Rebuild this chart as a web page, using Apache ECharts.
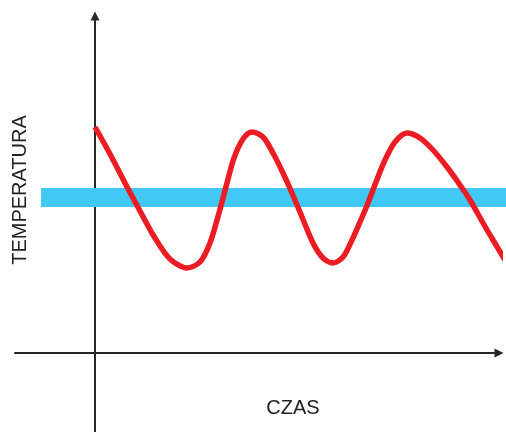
<!DOCTYPE html>
<html>
<head>
<meta charset="utf-8">
<script src="https://cdn.jsdelivr.net/npm/echarts@6/dist/echarts.min.js"></script>
<style>html,body{margin:0;padding:0;background:#fff}#c{width:506px;height:432px}</style>
</head>
<body>
<div id="c"></div>
<script>
// Time (x) and temperature (y) readings of the red curve
const czas = [0,15,30,45,60,75,92,105,115,124,132,139,148,157,168,178,188,197,207,218,228,238,248,257,265,273,281,290,300,312,325,338,352,365,375,388,398,410];
const temperatura = [226,199,170,142,115,94,85,91,110,140,170,195,214,221,216,200,180,160,136,110,95,90,96,113,131,150,171,193,211,220,215,203,186,168,153,130,113,93];
// Target band (blue): start/end time and level
const bandCzas = [-54, 411];
const bandPoziom = 155.5;
const xLabel = 'CZAS';
const yLabel = 'TEMPERATURA';

const chart = echarts.init(document.getElementById('c'));
const axisLine = {show:true, onZero:true, symbol:['none','triangle'], symbolSize:[9,9], lineStyle:{color:'#262626', width:2}};
chart.setOption({
  animation:false,
  grid:{left:15, right:7, top:16, bottom:0},
  xAxis:{type:'value', min:-80, max:404, axisLine:axisLine, axisTick:{show:false}, axisLabel:{show:false}, splitLine:{show:false}},
  yAxis:{type:'value', min:-79, max:337, axisLine:axisLine, axisTick:{show:false}, axisLabel:{show:false}, splitLine:{show:false}},
  series:[
    {type:'line', clip:false, symbol:'none', silent:true,
     data: bandCzas.map(x=>[x, bandPoziom]),
     lineStyle:{color:'#42c8f4', width:19, cap:'butt'}},
    {type:'line', clip:false, symbol:'none', smooth:0.3, silent:true,
     data: czas.map((x,i)=>[x, temperatura[i]]),
     lineStyle:{color:'#ec1c24', width:5.5, cap:'butt'}}
  ],
  graphic:[
    {type:'text', x:20, y:190, rotation:Math.PI/2, style:{text:yLabel, font:'20px "Liberation Sans", Arial, sans-serif', fill:'#222', align:'center', verticalAlign:'middle'}},
    {type:'text', x:293, y:408, style:{text:xLabel, font:'20px "Liberation Sans", Arial, sans-serif', fill:'#222', align:'center', verticalAlign:'middle'}}
  ]
});
</script>
</body>
</html>
